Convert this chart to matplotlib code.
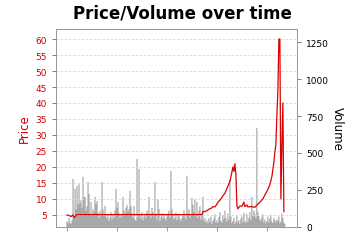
import matplotlib
matplotlib.use('Agg')
import matplotlib.pyplot as plt

# time index (one step per sample), price readings and daily volume
price_days = [0, 2, 4, 6, 7, 8, 10, 40, 80, 120, 135,
              136, 138, 140, 142, 144, 146, 148, 150, 151, 153, 156, 158,
              161, 163, 165, 166, 167, 168, 169, 170, 171, 173, 175, 177,
              178, 180, 181, 184, 188, 191, 193, 196, 198, 201, 203, 205,
              207, 208, 209, 210, 211, 212, 213, 214, 215, 216, 217]
price = [5.0, 4.8, 4.5, 5.0, 4.2, 4.5, 5.1, 5.1, 5.1, 5.1, 5.1,
         6.0, 6.1, 6.3, 6.8, 7.0, 7.6, 7.5, 8.4, 9.0, 9.6, 11.0, 11.8,
         14.0, 15.5, 18.4, 20.0, 18.6, 21.0, 17.5, 7.9, 6.9, 7.8, 7.7, 9.0,
         7.6, 8.1, 7.5, 7.6, 7.4, 8.4, 9.0, 10.0, 11.2, 13.0, 14.5, 17.0,
         21.5, 24.7, 27.0, 36.0, 44.0, 60.0, 60.0, 10.0, 26.6, 40.0, 6.0]

volume = [40, 25, 60, 30, 20, 45, 324, 70, 257, 120, 277, 150, 290, 160, 180, 130, 338, 200, 203, 110,
          140, 304, 223, 90, 169, 80, 120, 100, 203, 155, 176, 95, 60, 110, 75, 304, 120, 80, 142, 70,
          55, 90, 40, 65, 100, 50, 85, 60, 110, 257, 130, 169, 95, 60, 80, 70, 203, 110, 90, 130,
          150, 100, 120, 243, 140, 90, 60, 142, 50, 40, 460, 65, 392, 80, 55, 100, 45, 70, 90, 60,
          110, 75, 203, 90, 60, 130, 100, 70, 304, 85, 50, 189, 120, 40, 65, 95, 55, 80, 60, 45,
          70, 90, 110, 60, 378, 120, 80, 50, 65, 100, 45, 70, 90, 55, 40, 60, 85, 110, 70, 50,
          345, 90, 120, 60, 80, 196, 150, 100, 189, 70, 169, 60, 110, 140, 50, 80, 203, 40, 60, 30,
          45, 25, 60, 35, 70, 20, 40, 55, 85, 30, 45, 25, 65, 100, 40, 30, 80, 50, 110, 60,
          35, 90, 50, 320, 70, 25, 40, 60, 20, 35, 80, 30, 45, 20, 55, 70, 30, 95, 40, 25,
          88, 35, 60, 100, 45, 203, 70, 110, 90, 60, 669, 100, 75, 50, 40, 65, 85, 30, 50, 25,
          40, 70, 30, 55, 80, 35, 25, 60, 45, 30, 50, 40, 70, 25, 35, 90, 60, 30, 20]
vol_days = list(range(len(volume)))

price_ticks = [5, 10, 15, 20, 25, 30, 35, 40, 45, 50, 55, 60]
vol_ticks = [0, 250, 500, 750, 1000, 1250]
time_ticks = [0, 50, 100, 150, 200]

fig = plt.figure(figsize=(3.46, 2.51), dpi=100)
ax = fig.add_axes([0.162, 0.092, 0.696, 0.788])
ax2 = ax.twinx()

# volume bars behind, price line in front
ax.set_zorder(ax2.get_zorder() + 1)
ax.patch.set_visible(False)

# bars are ~1px wide, so turn off snapping or some vanish
ax2.bar(vol_days, volume, width=0.8, color='#6e6e6e', alpha=0.9,
        linewidth=0, snap=False)
ax2.set_ylim(0, 1338)
ax2.set_yticks(vol_ticks)
ax2.tick_params(axis='y', labelsize=6.5, colors='#666666', labelcolor='black', length=3, width=0.6)
ax2.set_ylabel('Volume', rotation=-90, fontsize=8.5, labelpad=11)

ax.plot(price_days, price, color='#dd0000', lw=0.9)
ax.set_ylim(1.25, 63.1)
ax.set_yticks(price_ticks)
ax.set_xlim(-11, 230)
ax.set_xticks(time_ticks)
ax.set_xticklabels([])
ax.tick_params(axis='y', labelsize=6.5, colors='#666666', labelcolor='#cc0000', length=3, width=0.6)
ax.tick_params(axis='x', colors='#888888', length=3, width=0.6)
ax.set_ylabel('Price', color='#cc0000', fontsize=8.5, labelpad=3)
ax.grid(axis='y', color='#d8d8d8', ls=(0, (3, 2)), lw=0.6)

for a in (ax, ax2):
    for s in a.spines.values():
        s.set_color('#999999')
        s.set_linewidth(0.7)

fig.text(0.526, 0.945, 'Price/Volume over time', ha='center', va='center',
         fontsize=12, fontweight='bold')

plt.savefig('out.png', dpi=100)
